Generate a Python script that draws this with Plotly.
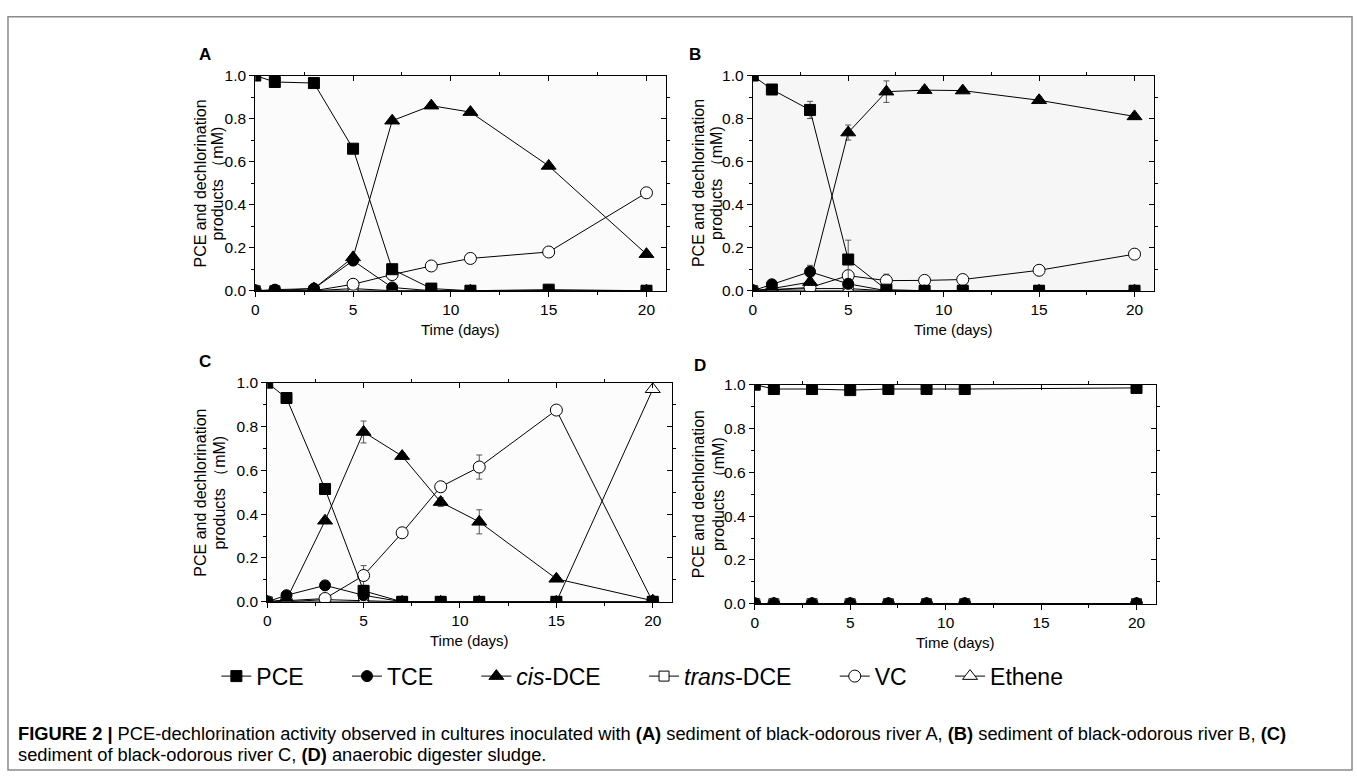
import plotly.graph_objects as go

W, H = 1357, 781
FONT = "Liberation Sans, Arial, Helvetica, sans-serif"

# ---------------- data ----------------
time = [0, 1, 3, 5, 7, 9, 11, 15, 20]
time_d = [0, 1, 3, 5, 7, 9, 11, 20]

NB = "\u00a0"
series_names = ["PCE", "TCE", "<i>cis</i>-DCE", "<i>trans</i>-DCE", "VC", "Ethene"]
legend_pad = [6, 6, 6, 6, 6, 0]  # trailing spaces that widen each legend entry

# Panel A - sediment of black-odorous river A
a_pce = [1.0, 0.97, 0.965, 0.66, 0.10, 0.01, 0.0, 0.005, 0.0]
a_tce = [0.0, 0.005, 0.01, 0.14, 0.015, 0.0, 0.0, 0.0, 0.0]
a_cis = [0.0, 0.0, 0.01, 0.155, 0.79, 0.86, 0.83, 0.58, 0.17]
a_trans = [0.0, 0.0, 0.0, 0.01, 0.0, 0.0, 0.0, 0.0, 0.0]
a_vc = [0.0, 0.0, 0.0, 0.03, 0.075, 0.115, 0.15, 0.18, 0.455]
a_eth = [0.0, 0.0, 0.0, 0.0, 0.0, 0.0, 0.0, 0.0, 0.0]
a_vc_err = [0.0, 0.0, 0.0, 0.01, 0.01, 0.01, 0.01, 0.01, 0.0]
a_cis_err = [0.0, 0.0, 0.0, 0.01, 0.01, 0.01, 0.01, 0.01, 0.0]

# Panel B - sediment of black-odorous river B
b_pce = [1.0, 0.935, 0.84, 0.145, 0.005, 0.0, 0.0, 0.0, 0.0]
b_tce = [0.0, 0.03, 0.088, 0.032, 0.0, 0.0, 0.0, 0.0, 0.0]
b_cis = [0.0, 0.01, 0.04, 0.735, 0.925, 0.932, 0.93, 0.885, 0.81]
b_trans = [0.0, 0.005, 0.01, 0.01, 0.0, 0.0, 0.0, 0.0, 0.0]
b_vc = [0.0, 0.005, 0.015, 0.07, 0.047, 0.048, 0.052, 0.095, 0.17]
b_eth = [0.0, 0.0, 0.0, 0.0, 0.0, 0.0, 0.0, 0.0, 0.0]
b_pce_err = [0.0, 0.01, 0.04, 0.09, 0.0, 0.0, 0.0, 0.0, 0.0]
b_tce_err = [0.0, 0.005, 0.03, 0.01, 0.0, 0.0, 0.0, 0.0, 0.0]
b_cis_err = [0.0, 0.0, 0.01, 0.035, 0.05, 0.015, 0.01, 0.015, 0.0]
b_vc_err = [0.0, 0.0, 0.0, 0.01, 0.03, 0.01, 0.01, 0.01, 0.0]

# Panel C - sediment of black-odorous river C
c_pce = [1.0, 0.93, 0.515, 0.05, 0.0, 0.0, 0.0, 0.0, 0.0]
c_tce = [0.0, 0.03, 0.075, 0.03, 0.0, 0.0, 0.0, 0.0, 0.0]
c_cis = [0.0, 0.01, 0.37, 0.775, 0.665, 0.455, 0.365, 0.105, 0.005]
c_trans = [0.0, 0.0, 0.01, 0.005, 0.0, 0.0, 0.0, 0.0, 0.0]
c_vc = [0.0, 0.005, 0.015, 0.12, 0.315, 0.525, 0.615, 0.875, 0.0]
c_eth = [0.0, 0.0, 0.0, 0.0, 0.0, 0.0, 0.0, 0.0, 0.97]
c_pce_err = [0.0, 0.0, 0.01, 0.01, 0.0, 0.0, 0.0, 0.0, 0.0]
c_cis_err = [0.0, 0.0, 0.01, 0.05, 0.015, 0.02, 0.055, 0.01, 0.0]
c_vc_err = [0.0, 0.0, 0.0, 0.045, 0.01, 0.01, 0.055, 0.0, 0.0]

# Panel D - anaerobic digester sludge
d_pce = [1.0, 0.98, 0.98, 0.975, 0.98, 0.98, 0.98, 0.985]
d_tce = [0.0, 0.0, 0.0, 0.0, 0.0, 0.0, 0.0, 0.0]
d_cis = [0.0, 0.0, 0.0, 0.0, 0.0, 0.0, 0.0, 0.0]
d_trans = [0.0, 0.0, 0.0, 0.0, 0.0, 0.0, 0.0, 0.0]
d_vc = [0.0, 0.0, 0.0, 0.0, 0.0, 0.0, 0.0, 0.0]
d_eth = [0.0, 0.0, 0.0, 0.0, 0.0, 0.0, 0.0, 0.0]

x_ticks = [0, 5, 10, 15, 20]
y_ticks = [0.0, 0.2, 0.4, 0.6, 0.8, 1.0]
y_tick_text = ["0.0", "0.2", "0.4", "0.6", "0.8", "1.0"]

panel_labels = ["A", "B", "C", "D"]
y_title_1 = "PCE and dechlorination"
y_title_2 = "products （mM)"
x_title = "Time (days)"
caption_1 = ("<b>FIGURE 2 |</b> PCE-dechlorination activity observed in cultures inoculated with "
             "<b>(A)</b> sediment of black-odorous river A, <b>(B)</b> sediment of black-odorous river B, <b>(C)</b>")
caption_2 = "sediment of black-odorous river C, <b>(D)</b> anaerobic digester sludge."

# ---------------- styles ----------------
styles = [
    dict(symbol="square", color="black", size=11),
    dict(symbol="circle", color="black", size=11),
    dict(symbol="triangle-up", color="black", size=13),
    dict(symbol="square", color="white", size=10),
    dict(symbol="circle", color="white", size=12),
    dict(symbol="triangle-up", color="white", size=13),
]
draw_order = [3, 5, 4, 0, 1, 2]  # open symbols underneath, filled symbols on top

panels = [
    dict(t=time, ys=[a_pce, a_tce, a_cis, a_trans, a_vc, a_eth],
         errs=[None, None, a_cis_err, None, a_vc_err, None],
         px=(252, 664), py=(68, 288), bg="#fbfbfb", lab=(202, 47), yt=(197, 214)),
    dict(t=time, ys=[b_pce, b_tce, b_cis, b_trans, b_vc, b_eth],
         errs=[b_pce_err, b_tce_err, b_cis_err, None, b_vc_err, None],
         px=(751, 1153), py=(68, 288), bg="#f6f6f6", lab=(693, 47), yt=(696, 714)),
    dict(t=time, ys=[c_pce, c_tce, c_cis, c_trans, c_vc, c_eth],
         errs=[c_pce_err, None, c_cis_err, None, c_vc_err, None],
         px=(264, 670), py=(382, 606), bg="#fcfcfc", lab=(202, 360), yt=(197, 216)),
    dict(t=time_d, ys=[d_pce, d_tce, d_cis, d_trans, d_vc, d_eth],
         errs=[None, None, None, None, None, None],
         px=(753, 1155), py=(384, 608), bg="#fdfdfd", lab=(698, 364), yt=(696, 716)),
]


def fx(p):
    return p / W


def fy(p):
    return 1 - p / H


fig = go.Figure()
layout = dict(
    width=W, height=H, margin=dict(l=0, r=0, t=0, b=0),
    paper_bgcolor="white", plot_bgcolor="rgba(0,0,0,0)",
    font=dict(family=FONT, color="black", size=15),
    showlegend=True,
    legend=dict(orientation="h", x=fx(213), xanchor="left", y=fy(682), yanchor="middle",
                font=dict(size=23, family=FONT, color="black"), bgcolor="rgba(0,0,0,0)",
                itemwidth=30, tracegroupgap=0, traceorder="normal"),
)
shapes = []
annotations = []

for i, p in enumerate(panels):
    n = i + 1
    m = i + 5
    xs = "" if n == 1 else str(n)
    ys_ = "" if n == 1 else str(n)
    xdom = [fx(p["px"][0]), fx(p["px"][1])]
    ydom = [fy(p["py"][1]), fy(p["py"][0])]
    common_x = dict(range=[0, 21], tickvals=x_ticks, showgrid=False, zeroline=False,
                    tickcolor="black", tickwidth=1,
                    minor=dict(tickvals=[2.5, 7.5, 12.5, 17.5], ticklen=3, tickcolor="black", tickwidth=1))
    common_y = dict(range=[0, 1.0], tickvals=y_ticks, showgrid=False, zeroline=False,
                    tickcolor="black", tickwidth=1,
                    minor=dict(tickvals=[0.1, 0.3, 0.5, 0.7, 0.9], ticklen=3, tickcolor="black", tickwidth=1))
    layout["xaxis" + xs] = dict(common_x, domain=xdom, anchor="y" + ys_, ticks="outside", ticklen=5,
                                showline=True, linecolor="black", linewidth=1, mirror=True,
                                tickfont=dict(size=15.5, family=FONT, color="black"))
    layout["yaxis" + ys_] = dict(common_y, domain=ydom, anchor="x" + xs, ticks="outside", ticklen=5,
                                 ticktext=y_tick_text, showline=True, linecolor="black", linewidth=1,
                                 mirror=True, tickfont=dict(size=15.5, family=FONT, color="black"))
    layout["xaxis%d" % m] = dict(common_x, overlaying="x" + xs, anchor="y" + ys_, side="top",
                                 ticks="inside", ticklen=5, showticklabels=False, showline=False)
    layout["yaxis%d" % m] = dict(common_y, overlaying="y" + ys_, anchor="x" + xs, side="right",
                                 ticks="inside", ticklen=5, showticklabels=False, showline=False)
    fig.add_trace(go.Scatter(x=[None], y=[None], xaxis="x%d" % m, yaxis="y%d" % m,
                             showlegend=False, hoverinfo="skip"))

    shapes.append(dict(type="rect", xref="x%s domain" % xs, yref="y%s domain" % ys_,
                       x0=0, x1=1, y0=0, y1=1, fillcolor=p["bg"], line=dict(width=0), layer="below"))

    for k in draw_order:
        yvals = p["ys"][k]
        st = styles[k]
        err = p["errs"][k]
        tr = dict(
            x=p["t"], y=yvals, mode="lines+markers", name=series_names[k] + NB * legend_pad[k],
            legendgroup=series_names[k], showlegend=(i == 0), legendrank=k + 1,
            line=dict(color="black", width=1),
            marker=dict(symbol=st["symbol"], size=st["size"], color=st["color"],
                        line=dict(color="black", width=1)),
            xaxis="x" + xs, yaxis="y" + ys_,
        )
        if err is not None:
            tr["error_y"] = dict(type="data", array=err, visible=True, color="#555555",
                                 thickness=1, width=3)
        fig.add_trace(go.Scatter(**tr))

    # panel label
    annotations.append(dict(text="<b>%s</b>" % panel_labels[i], x=fx(p["lab"][0]), y=fy(p["lab"][1]),
                            xref="paper", yref="paper", showarrow=False, xanchor="center",
                            yanchor="middle", font=dict(size=17, family=FONT, color="black")))
    # y title (two lines)
    for line_text, xc in zip([y_title_1, y_title_2], p["yt"]):
        annotations.append(dict(text=line_text, x=fx(xc), y=fy((p["py"][0] + p["py"][1]) / 2),
                                xref="paper", yref="paper", showarrow=False, textangle=-90,
                                xanchor="center", yanchor="middle",
                                font=dict(size=16, family=FONT, color="black")))
    # x title
    annotations.append(dict(text=x_title, x=fx((p["px"][0] + p["px"][1]) / 2), y=fy(p["py"][1] + 40),
                            xref="paper", yref="paper", showarrow=False, xanchor="center",
                            yanchor="middle", font=dict(size=15, family=FONT, color="black")))

# caption
annotations.append(dict(text=caption_1, x=fx(12), y=fy(741), xref="paper", yref="paper",
                        showarrow=False, xanchor="left", yanchor="middle", align="left",
                        font=dict(size=18.3, family=FONT, color="black")))
annotations.append(dict(text=caption_2, x=fx(12), y=fy(762), xref="paper", yref="paper",
                        showarrow=False, xanchor="left", yanchor="middle", align="left",
                        font=dict(size=18.3, family=FONT, color="black")))

# outer frame
shapes.append(dict(type="rect", xref="paper", yref="paper", x0=fx(4), x1=fx(1352), y0=fy(778), y1=fy(8),
                   line=dict(color="#8a8a8a", width=1.5), fillcolor="rgba(0,0,0,0)", layer="below"))

layout["shapes"] = shapes
layout["annotations"] = annotations
fig.update_layout(**layout)

fig.write_html("out.html", config={"displayModeBar": False},
               post_script="document.body.style.margin='0';document.body.style.overflow='hidden';")
